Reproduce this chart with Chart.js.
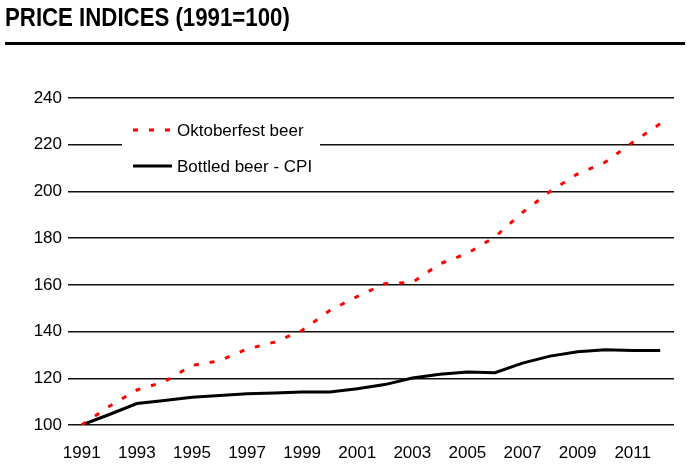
<!DOCTYPE html>
<html>
<head>
<meta charset="utf-8">
<script src="https://cdn.jsdelivr.net/npm/chart.js@4"></script>
<style>
  html, body { margin: 0; padding: 0; background: #fff; }
  #wrap { position: relative; width: 692px; height: 476px; }
  #title { position: absolute; left: 5px; top: 2px; font-family: "Liberation Sans", Arial, sans-serif; font-weight: bold; font-size: 26px; color: #000; white-space: nowrap; transform: scaleX(0.855); transform-origin: left top; }
  #rule { position: absolute; left: 5px; top: 42px; width: 680px; height: 3px; background: #000; }
  #cv { position: absolute; left: 0; top: 0; }
</style>
</head>
<body>
<div id="wrap">
  <canvas id="cv" width="692" height="476"></canvas>
  <div id="title">PRICE INDICES (1991=100)</div>
  <div id="rule"></div>
</div>
<script>
const years = ["1991","1992","1993","1994","1995","1996","1997","1998","1999","2000","2001","2002","2003","2004","2005","2006","2007","2008","2009","2010","2011","2012"];
const oktoberfestBeer = [100,108,115,118.5,125.5,127.5,132.5,135.5,140.5,149,155,160.5,161,169,173.5,180.5,191,200,207.5,212.5,221,229];
const bottledBeerCPI = [100,104.5,109.2,110.5,111.9,112.6,113.4,113.7,114.1,114.1,115.5,117.3,120.1,121.7,122.7,122.4,126.5,129.5,131.4,132.2,131.9,131.9];
const yTicks = [100,120,140,160,180,200,220,240];
const seriesNames = ["Oktoberfest beer", "Bottled beer - CPI"];

const legendPlugin = {
  id: 'insideLegend',
  afterDraw(chart) {
    const ctx = chart.ctx;
    ctx.save();
    ctx.fillStyle = '#fff';
    ctx.fillRect(122, 114, 198, 66);
    const rows = [130, 166];
    chart.data.datasets.forEach((ds, i) => {
      const y = rows[i];
      ctx.beginPath();
      ctx.strokeStyle = ds.borderColor;
      ctx.lineWidth = ds.borderWidth;
      ctx.setLineDash(ds.borderDash || []);
      ctx.moveTo(133, y);
      ctx.lineTo(172, y);
      ctx.stroke();
      ctx.setLineDash([]);
      ctx.fillStyle = '#000';
      ctx.font = '17px "Liberation Sans", Arial, sans-serif';
      ctx.textBaseline = 'middle';
      ctx.textAlign = 'left';
      ctx.fillText(ds.label, 177, y + 1);
    });
    ctx.restore();
  }
};

new Chart(document.getElementById('cv'), {
  type: 'line',
  data: {
    labels: years,
    datasets: [
      { label: seriesNames[0], data: oktoberfestBeer, borderColor: '#ff0000', borderWidth: 3, borderDash: [5, 11], pointRadius: 0, fill: false, tension: 0 },
      { label: seriesNames[1], data: bottledBeerCPI, borderColor: '#000000', borderWidth: 3, pointRadius: 0, fill: false, tension: 0 }
    ]
  },
  options: {
    responsive: false,
    animation: false,
    layout: { padding: { top: 98, right: 18, left: 0, bottom: 0 } },
    plugins: { legend: { display: false }, tooltip: { enabled: false } },
    scales: {
      x: {
        type: 'category',
        offset: true,
        afterFit: (axis) => { axis.height = 51; },
        grid: { display: false, drawTicks: false },
        border: { display: false },
        ticks: {
          autoSkip: false, maxRotation: 0, padding: 18, color: '#000',
          font: { family: '"Liberation Sans", Arial, sans-serif', size: 17 },
          callback: function(v, i) { return i % 2 === 0 ? years[i] : ''; }
        }
      },
      y: {
        min: yTicks[0], max: yTicks[yTicks.length - 1],
        afterBuildTicks: (axis) => { axis.ticks = yTicks.map(v => ({ value: v })); },
        afterFit: (axis) => { axis.width = 68; },
        grid: { color: '#111', lineWidth: 1.5, drawTicks: false },
        border: { display: false },
        ticks: { padding: 6, color: '#000', font: { family: '"Liberation Sans", Arial, sans-serif', size: 17 } }
      }
    }
  },
  plugins: [legendPlugin]
});
</script>
</body>
</html>
